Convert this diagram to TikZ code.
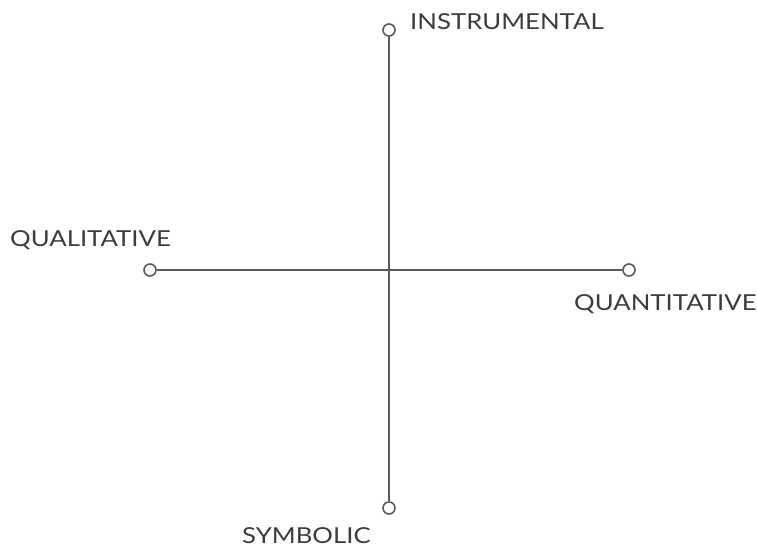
\documentclass[tikz,border=0pt]{standalone}
\usepackage{fontspec}
\setmainfont[FakeStretch=1.17]{Lato}
\definecolor{axisgray}{HTML}{5A5A5A}
\definecolor{labelgray}{HTML}{3C3C3C}
\begin{document}
\begin{tikzpicture}[x=1pt, y=-1pt,
    endpoint/.style={circle, draw=axisgray, line width=1.6pt, fill=white, minimum size=12pt, inner sep=0pt},
    axislabel/.style={text=labelgray, font=\fontsize{22}{24}\selectfont, inner sep=0pt, anchor=base west}]
  \useasboundingbox (0,0) rectangle (757,548);
  \node[endpoint] (top) at (389,30) {};
  \node[endpoint] (bottom) at (389,508) {};
  \node[endpoint] (left) at (150,270) {};
  \node[endpoint] (right) at (629,270) {};
  \draw[axisgray, line width=1.8pt] (top) -- (bottom);
  \draw[axisgray, line width=1.8pt] (left) -- (right);
  \node[axislabel] (instrumental) at (410,30) {INSTRUMENTAL};
  \node[axislabel] (qualitative) at (10,246) {QUALITATIVE};
  \node[axislabel] (quantitative) at (574,310) {QUANTITATIVE};
  \node[axislabel] (symbolic) at (242,543) {SYMBOLIC};
\end{tikzpicture}
\end{document}
